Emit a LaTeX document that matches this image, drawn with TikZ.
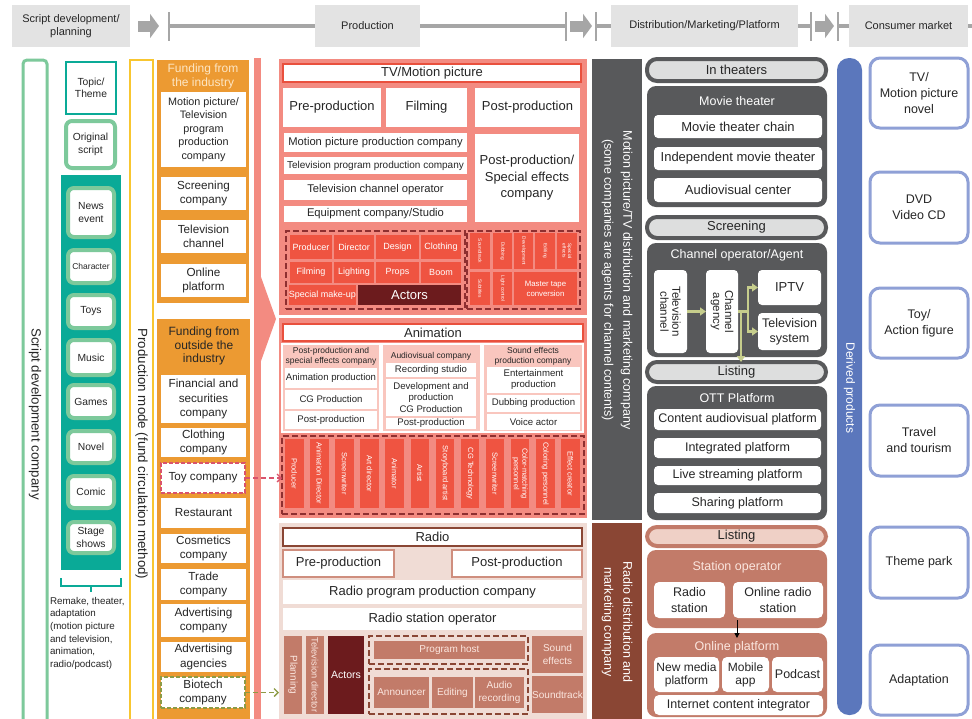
\documentclass[tikz,border=0pt]{standalone}
\usepackage{fontspec}
\setmainfont{Liberation Sans}
\setsansfont{Liberation Sans}
\usetikzlibrary{arrows.meta}

\newcommand{\fsz}[1]{\fontsize{#1pt}{\dimexpr#1pt*12/10\relax}\selectfont}

\begin{document}
\begin{tikzpicture}[x=1pt, y=-1pt,
  every node/.style={inner sep=0pt, outer sep=0pt, align=center, text=ink},
  topbox/.style={fill=topgray, font=\fsz{11}},
  flowline/.style={draw=flowgray, line width=3.5pt},
  flowtick/.style={draw=flowgray, line width=2.5pt},
  blockarrow/.style={draw=flowgray, line width=11pt, -{Triangle[length=9pt, width=24pt]}},
  greenframe/.style={draw=leafgreen, line width=3pt, rounded corners=4pt, fill=white},
  tealframe/.style={draw=tealgreen, line width=2pt, fill=white},
  tile/.style={draw=leafgreen, line width=4pt, rounded corners=6pt, fill=white},
  yellowframe/.style={draw=sunyellow, line width=2pt, fill=white},
  fundbox/.style={fill=white, font=\fontsize{11.7pt}{14.5pt}\selectfont},
  tvtitle/.style={fill=white, draw=titlered, line width=2pt, font=\fsz{13}},
  wbox/.style={fill=white, font=\fsz{13}},
  crewframe/.style={draw=dashwine, line width=1.5pt, dash pattern=on 6pt off 3pt},
  crewcell/.style={fill=crewred, text=white, font=\fsz{9}},
  actorcell/.style={fill=actorwine, text=white, font=\fsz{13}},
  animsub/.style={fill=salmonlight, draw=white, line width=1.2pt},
  animhead/.style={font=\fontsize{8.5pt}{10pt}\selectfont},
  animitem/.style={fill=white, font=\fontsize{9.6pt}{11pt}\selectfont},
  radiotitle/.style={fill=white, draw=radiodark, line width=2pt, font=\fsz{13}},
  radiosub/.style={fill=white, draw=radioline, line width=1.5pt, font=\fsz{13}},
  radcell/.style={fill=radiobrown, text=radiocream, font=\fontsize{10pt}{12.5pt}\selectfont},
  radframe/.style={draw=radiodark, line width=1.5pt, dash pattern=on 6pt off 3pt},
  collabel/.style={rotate=-90, text=white, font=\fontsize{12.5pt}{19pt}\selectfont},
  pill/.style={fill=pillgray, draw=distgray, line width=4pt, rounded corners=10pt, font=\fsz{13}},
  rpill/.style={fill=pillpink, draw=radiobrown, line width=4pt, rounded corners=10pt, font=\fsz{13}},
  dpanel/.style={fill=distgray, rounded corners=9pt},
  rpanel/.style={fill=radiobrown, rounded corners=9pt},
  panelhead/.style={text=white, font=\fsz{12.5}},
  witem/.style={fill=white, rounded corners=4pt, font=\fsz{12.5}},
  ritem/.style={fill=white, rounded corners=5pt, font=\fontsize{12.5pt}{15.5pt}\selectfont},
  oarrow/.style={draw=olivearrow, line width=2.5pt, -{Triangle[length=6pt, width=8pt]}},
  oline/.style={draw=olivearrow, line width=2.5pt},
  derivbox/.style={fill=white, draw=derivlight, line width=3pt, rounded corners=10pt, font=\fontsize{12.5pt}{16pt}\selectfont},
  dasharrow/.style={line width=1.3pt, dash pattern=on 5pt off 3pt, -{Straight Barb[length=4pt, width=8pt]}}
]

%─────────────
% Colours
%─────────────
\definecolor{ink}{HTML}{262626}
\definecolor{topgray}{HTML}{E3E3E3}
\definecolor{flowgray}{HTML}{A6A6A6}
\definecolor{leafgreen}{HTML}{7DC99B}
\definecolor{tealgreen}{HTML}{0AAA97}
\definecolor{sunyellow}{HTML}{F8C630}
\definecolor{fundorange}{HTML}{EC9A32}
\definecolor{fundcream}{HTML}{FDE6C4}
\definecolor{salmon}{HTML}{F38B81}
\definecolor{salmonlight}{HTML}{F9C6BE}
\definecolor{crewred}{HTML}{EF5441}
\definecolor{titlered}{HTML}{E9503D}
\definecolor{actorwine}{HTML}{6C1B1D}
\definecolor{dashwine}{HTML}{8E2F30}
\definecolor{radiobg}{HTML}{F0DCD5}
\definecolor{radiobrown}{HTML}{C27B69}
\definecolor{radiodark}{HTML}{8A4634}
\definecolor{radioline}{HTML}{CF8E7E}
\definecolor{radiocream}{HTML}{FBE6DF}
\definecolor{distgray}{HTML}{58595B}
\definecolor{pillgray}{HTML}{DDDEDE}
\definecolor{pillpink}{HTML}{EFD0C6}
\definecolor{derivblue}{HTML}{5B77BC}
\definecolor{derivlight}{HTML}{8FA0D6}
\definecolor{olivearrow}{HTML}{C6CD8C}
\definecolor{olivedash}{HTML}{8D9B45}
\definecolor{toydash}{HTML}{D9536C}

%───────────────────────────────────────────────────────
% Box from corner (#3,#4) to corner (#5,#6), in pixels
% #1 = style, #2 = name, #7 = text
%───────────────────────────────────────────────────────
\newcommand{\placeCell}[7]{%
  \node[#1, minimum width={(#5)-(#3)}, minimum height={(#6)-(#4)}] (#2)
    at ({((#3)+(#5))/2},{((#4)+(#6))/2}) {#7};
}
% same, text turned to read downwards
\newcommand{\placeVCell}[7]{%
  \node[#1, rotate=-90, minimum width={(#6)-(#4)}, minimum height={(#5)-(#3)}] (#2)
    at ({((#3)+(#5))/2},{((#4)+(#6))/2}) {#7};
}

\useasboundingbox (0,0) rectangle (972,718);
\fill[white] (0,0) rectangle (972,718);

%─────────────
% Top flow bar
%─────────────
\placeCell{topbox}{scriptTop}{12}{5}{130}{47}{Script development/\\planning}
\placeCell{topbox}{prodTop}{315}{5}{420}{47}{Production}
\placeCell{topbox}{distTop}{611}{5}{798}{47}{Distribution/Marketing/Platform}
\placeCell{topbox}{consTop}{849}{5}{968}{47}{Consumer market}

\foreach \nm/\tx in {tickA/169, tickB/566, tickC/596, tickD/811, tickE/838} {
  \coordinate (\nm) at (\tx,26);
  \draw[flowtick] (\tx,12) -- (\tx,41);
}
\coordinate (tailEnd) at (972,26);

\draw[flowline] (tickA) -- (prodTop);
\draw[flowline] (prodTop) -- (tickB);
\draw[flowline] (tickC) -- (distTop);
\draw[flowline] (distTop) -- (tickD);
\draw[flowline] (tickE) -- (consTop);
\draw[flowline] (consTop) -- (tailEnd);

\draw[blockarrow] ([xshift=8pt]scriptTop.east) -- ([xshift=29pt]scriptTop.east);
\draw[blockarrow] ([xshift=4pt]tickB) -- ([xshift=-4pt]tickC);
\draw[blockarrow] ([xshift=4pt]tickD) -- ([xshift=-4pt]tickE);

%─────────────
% Script development column
%─────────────
\placeCell{greenframe}{scriptCol}{23}{60}{47}{724}{}
\node[rotate=-90, font=\fsz{13.3}] (scriptLbl) at (35,414) {Script development company};

\placeCell{tealframe, font=\fsz{10.3}}{topicBox}{66}{62}{116}{114}{Topic/\\Theme}
\placeCell{tile, font=\fsz{10.3}}{origScript}{66}{121}{115}{168}{Original\\script}
\placeCell{fill=tealgreen}{sourcePanel}{61}{175}{121}{570}{}

\foreach \nm/\ya/\yb/\txt/\sz in {news/188/237/{News\\event}/10.3, character/250/283/Character/8.5,
    toys/295/328/Toys/10.3, music/340/375/Music/10.3, games/385/418/Games/10.3,
    novel/431/463/Novel/10.3, comic/476/508/Comic/10.3, stage/522/553/{Stage\\shows}/10.3} {
  \placeCell{tile, font=\fsz{\sz}}{\nm}{68}{\ya}{114}{\yb}{\txt}
}

% brace under the sources
\draw[tealgreen, line width=2pt] (61,578) -- (61,586) -- (121,586) -- (121,578) (91,586) -- (91,592);
\node[anchor=north west, align=left, font=\fontsize{9.8pt}{12.7pt}\selectfont] (remakeNote) at (50,597)
  {Remake, theater,\\adaptation\\(motion picture\\and television,\\animation,\\radio/podcast)};

%─────────────
% Production mode / funding
%─────────────
\placeCell{yellowframe}{modeCol}{130}{60}{153}{724}{}
\node[rotate=-90, font=\fsz{13.3}] (modeLbl) at (141.5,454) {Production mode (fund circulation method)};

\placeCell{fill=fundorange}{fundInside}{157}{60}{249}{303}{}
\node[font=\fontsize{12pt}{14pt}\selectfont, text=fundcream] (fundInsideTitle) at (203,76) {Funding from\\the industry};
\placeCell{fundbox, font=\fontsize{10.8pt}{13.4pt}\selectfont}{mpCo}{161}{92}{246}{167}{Motion picture/\\Television\\program\\production\\company}
\foreach \nm/\ya/\yb/\txt in {screenCo/177/210/{Screening\\company}, tvChanCo/220/253/{Television\\channel},
    onlineCo/264/297/{Online\\platform}} {
  \placeCell{fundbox}{\nm}{161}{\ya}{246}{\yb}{\txt}
}

\placeCell{fill=fundorange}{fundOutside}{157}{319}{250}{724}{}
\node[font=\fontsize{12pt}{13.5pt}\selectfont] (fundOutsideTitle) at (204,346) {Funding from\\outside the\\industry};
\foreach \nm/\ya/\yb/\txt in {finCo/375/423/{Financial and\\securities\\company}, clothCo/428/457/{Clothing\\company},
    restCo/498/528/Restaurant, cosmCo/534/563/{Cosmetics\\company}, tradeCo/569/600/{Trade\\company},
    advCo/604/637/{Advertising\\company}, advAg/642/672/{Advertising\\agencies}} {
  \placeCell{fundbox}{\nm}{161}{\ya}{246}{\yb}{\txt}
}
\placeCell{fundbox, draw=toydash, line width=1.2pt, dash pattern=on 4pt off 2pt}{toyCo}{161}{463}{245}{493}{Toy company}
\placeCell{fundbox, draw=olivedash, line width=1.2pt, dash pattern=on 4pt off 2pt}{bioCo}{161}{677}{245}{708}{Biotech\\company}

% big pink arrow into production
\fill[salmon] (254,58) rectangle (261,724);
\fill[salmon] (261,277) -- (276,319) -- (261,361) -- cycle;

%─────────────
% TV / Motion picture
%─────────────
\placeCell{fill=salmon}{tvBlock}{279}{59}{587}{315}{}
\placeCell{tvtitle}{tvTitle}{283}{64}{581}{82}{TV/Motion picture}
\placeCell{wbox}{tvPre}{283}{88}{381}{127}{Pre-production}
\placeCell{wbox}{tvFilm}{386}{88}{467}{127}{Filming}
\placeCell{wbox}{tvPost}{475}{88}{580}{127}{Post-production}
\placeCell{wbox, font=\fsz{11.2}}{tvMpc}{284}{133}{467}{152}{Motion picture production company}
\placeCell{wbox, font=\fsz{10}}{tvTpc}{284}{157}{467}{174}{Television program production company}
\placeCell{wbox, font=\fsz{11.2}}{tvTco}{284}{180}{467}{200}{Television channel operator}
\placeCell{wbox, font=\fsz{11.2}}{tvEqp}{284}{206}{467}{222}{Equipment company/Studio}
\placeCell{wbox, font=\fontsize{13pt}{16.5pt}\selectfont}{tvSfx}{475}{134}{579}{222}{Post-production/\\Special effects\\company}

\placeCell{crewframe}{tvCrewL}{286}{231}{465}{309}{}
\placeCell{crewframe}{tvCrewR}{467}{231}{580}{309}{}
\foreach \xa/\xb/\top/\bot [count=\i] in {290/332/Producer/Filming, 334/374/Director/Lighting,
    376/419/Design/Props, 421/461/Clothing/Boom} {
  \placeCell{crewcell}{tvTop\i}{\xa}{235}{\xb}{259}{\top}
  \placeCell{crewcell}{tvMid\i}{\xa}{262}{\xb}{283}{\bot}
}
\placeCell{crewcell}{tvMakeup}{289}{285}{356}{305}{Special make-up}
\placeCell{actorcell}{tvActors}{358}{285}{461}{305}{Actors}

\foreach \xa/\xb/\txt [count=\i] in {470/490/Soundtrack, 493/512/Dubbing, 514/533/Development,
    535/555/Editing, 557/577/{Special\\effects}} {
  \placeVCell{crewcell, font=\fontsize{4.8pt}{5.5pt}\selectfont}{tvPost\i}{\xa}{233}{\xb}{269}{\txt}
}
\placeVCell{crewcell, font=\fsz{4.8}}{tvSubs}{470}{272}{490}{305}{Subtitles}
\placeVCell{crewcell, font=\fsz{4.8}}{tvLight}{493}{272}{512}{305}{Light control}
\placeCell{crewcell, font=\fontsize{7.8pt}{10pt}\selectfont}{tvMaster}{514}{272}{577}{305}{Master tape\\conversion}

%─────────────
% Animation
%─────────────
\placeCell{fill=salmon}{animBlock}{279}{318}{587}{518}{}
\placeCell{tvtitle}{animTitle}{283}{324}{583}{341}{Animation}

\placeCell{animsub}{animPost}{282}{344}{380}{432}{}
\node[animhead] (animPostHead) at (331,356) {Post-production and\\special effects company};
\placeCell{animitem}{apAnim}{285}{368}{377}{388}{Animation production}
\placeCell{animitem}{apCg}{285}{389.5}{377}{409}{CG Production}
\placeCell{animitem}{apPost}{285}{410.5}{377}{429}{Post-production}

\placeCell{animsub}{animAv}{382}{344}{481}{432}{}
\node[animhead] (animAvHead) at (431,356) {Audiovisual company};
\placeCell{animitem}{avRec}{386}{363}{476}{377}{Recording studio}
\placeCell{animitem, font=\fontsize{9.6pt}{11.5pt}\selectfont}{avDev}{386}{378.5}{476}{416}{Development and\\production\\CG Production}
\placeCell{animitem}{avPost}{386}{417.5}{476}{429}{Post-production}

\placeCell{animsub}{animSfx}{483}{344}{583}{432}{}
\node[animhead] (animSfxHead) at (533,356) {Sound effects\\production company};
\placeCell{animitem}{sfEnt}{487}{367}{580}{393}{Entertainment\\production}
\placeCell{animitem}{sfDub}{487}{394.5}{580}{412}{Dubbing production}
\placeCell{animitem}{sfVoice}{487}{413.5}{580}{430}{Voice actor}

\placeCell{crewframe}{animCrew}{282}{436}{584}{514}{}
\foreach \txt [count=\i] in {Producer, Animation Director, Screenwriter, Art director, Animator, Artist,
    Storyboard artist, CG Technology, Screenwriter, {Color-matching\\personnel}, Coloring personnel, Effect creator} {
  \pgfmathsetmacro{\xa}{285+25.1*(\i-1)}
  \placeVCell{crewcell, font=\fontsize{7.5pt}{8.5pt}\selectfont}{animRole\i}{\xa}{439}{\xa+18.5}{508}{\txt}
}

%─────────────
% Radio
%─────────────
\placeCell{fill=radiobg}{radioBlock}{279}{523}{587}{724}{}
\placeCell{radiotitle}{radioTitle}{283}{528}{582}{546}{Radio}
\placeCell{radiosub}{radPre}{283}{550}{394}{577}{Pre-production}
\placeCell{radiosub}{radPost}{452}{550}{582}{577}{Post-production}
\placeCell{wbox}{radProd}{283}{580}{582}{604}{Radio program production company}
\placeCell{wbox}{radOp}{283}{608}{582}{630}{Radio station operator}

\placeVCell{radcell}{radPlan}{284}{636}{302}{714}{Planning}
\placeVCell{radcell, font=\fsz{9.3}}{radDir}{306}{636}{324}{714}{Television director}
\placeCell{actorcell, font=\fsz{10.5}}{radActors}{328}{636}{364}{714}{Actors}
\placeCell{radframe}{radHostBox}{369}{636}{528}{664}{}
\placeCell{radcell}{radHost}{374}{641}{525}{659}{Program host}
\placeCell{radframe}{radRecBox}{369}{669}{528}{714}{}
\placeCell{radcell}{radAnn}{374}{677}{429}{708}{Announcer}
\placeCell{radcell}{radEdit}{432}{677}{473}{708}{Editing}
\placeCell{radcell}{radAudio}{475}{677}{524}{708}{Audio\\recording}
\placeCell{radcell}{radSfx}{532}{636}{583}{673}{Sound\\effects}
\placeCell{radcell}{radTrack}{532}{676}{583}{713}{Soundtrack}

% funding links
\draw[dasharrow, toydash] (toyCo.east) -- (animCrew.west |- toyCo.east);
\draw[dasharrow, olivedash] (bioCo.east) -- (radioBlock.west |- bioCo.east);

%─────────────
% Distribution / marketing
%─────────────
\placeCell{fill=distgray}{mpDist}{592}{59}{642}{520}{}
\node[collabel] (mpDistLbl) at (617,280) {Motion picture/TV distribution and marketing company\\(some companies are agents for channel contents)};
\placeCell{fill=radiodark}{radDist}{592}{523}{642}{724}{}
\node[collabel] (radDistLbl) at (617,622) {Radio distribution and\\marketing company};

\placeCell{pill}{theaterPill}{647}{59}{826}{81}{In theaters}
\placeCell{dpanel}{movieTh}{647}{86}{827}{207}{}
\node[panelhead] (movieThHead) at (737,101) {Movie theater};
\placeCell{witem, font=\fsz{13}}{mtChain}{654}{115}{822}{138}{Movie theater chain}
\placeCell{witem, font=\fsz{13}}{mtIndep}{654}{147}{822}{170}{Independent movie theater}
\placeCell{witem, font=\fsz{13}}{mtAv}{654}{178}{822}{202}{Audiovisual center}

\placeCell{pill}{screenPill}{647}{217}{826}{238}{Screening}
\placeCell{dpanel}{chanOp}{647}{243}{827}{357}{}
\node[panelhead] (chanOpHead) at (737,255) {Channel operator/Agent};
\placeVCell{witem, font=\fontsize{11.5pt}{12pt}\selectfont}{tvChan}{654}{270}{687}{353}{Television\\channel}
\placeVCell{witem, font=\fontsize{11.5pt}{12pt}\selectfont}{chAgency}{706}{270}{738}{353}{Channel\\agency}
\placeCell{witem, font=\fsz{13}}{iptv}{758}{270}{821}{305}{IPTV}
\placeCell{witem, font=\fontsize{12.5pt}{15pt}\selectfont}{tvSys}{758}{313}{821}{350}{Television\\system}
\placeCell{pill}{listPill}{647}{362}{826}{382}{Listing}

\coordinate (branchPt) at (748,311.5);
\coordinate (dropPt) at (741,311.5);
\draw[oarrow] (tvChan) -- (chAgency);
\draw[oline] (chAgency) -- (branchPt);
\draw[oarrow] (branchPt) |- (iptv.west);
\draw[oarrow] (branchPt) |- (tvSys.west);
\draw[oarrow] (dropPt) -- (dropPt |- listPill.north);

\placeCell{dpanel}{ott}{647}{386}{827}{520}{}
\node[panelhead] (ottHead) at (737,398) {OTT Platform};
\foreach \nm/\ya/\yb/\txt in {ottContent/409/430/Content audiovisual platform, ottInteg/438/458/Integrated platform,
    ottLive/466/485/Live streaming platform, ottShare/493/513/Sharing platform} {
  \placeCell{witem}{\nm}{654}{\ya}{821}{\yb}{\txt}
}

\placeCell{rpill}{radListPill}{647}{527}{826}{546}{Listing}
\placeCell{rpanel}{station}{647}{550}{827}{628}{}
\node[panelhead, text=radiocream] (stationHead) at (737,567) {Station operator};
\placeCell{ritem}{radStation}{654}{582}{725}{618}{Radio\\station}
\placeCell{ritem}{onlineRadio}{733}{582}{823}{618}{Online radio\\station}
\placeCell{rpanel}{radOnline}{647}{633}{827}{717}{}
\node[panelhead, text=radiocream] (radOnlineHead) at (737,647) {Online platform};
\placeCell{ritem, font=\fontsize{12pt}{13pt}\selectfont}{newMedia}{654}{657}{719}{692}{New media\\platform}
\placeCell{ritem, font=\fontsize{12pt}{13pt}\selectfont}{mobileApp}{722}{657}{769}{692}{Mobile\\app}
\placeCell{ritem}{podcast}{772}{657}{823}{692}{Podcast}
\placeCell{ritem}{integrator}{654}{695}{823}{715}{Internet content integrator}
\draw[black, line width=1pt, -{Triangle[length=5pt, width=5pt]}] ([yshift=8pt]station.south) -- ([yshift=-5pt]radOnline.north);

%─────────────
% Consumer market
%─────────────
\placeCell{fill=derivblue, rounded corners=12pt}{derived}{837}{58}{862}{715}{}
\node[rotate=-90, text=white, font=\fsz{12}] (derivedLbl) at (849.5,388) {Derived products};
\foreach \nm/\ya/\yb/\txt in {novelPr/58/128/{TV/\\Motion picture\\novel}, dvdPr/172/243/{DVD\\Video CD},
    toyPr/288/358/{Toy/\\Action figure}, travelPr/405/476/{Travel\\and tourism},
    parkPr/527/598/Theme park, adaptPr/645/715/Adaptation} {
  \placeCell{derivbox}{\nm}{870}{\ya}{968}{\yb}{\txt}
}

\end{tikzpicture}
\end{document}
